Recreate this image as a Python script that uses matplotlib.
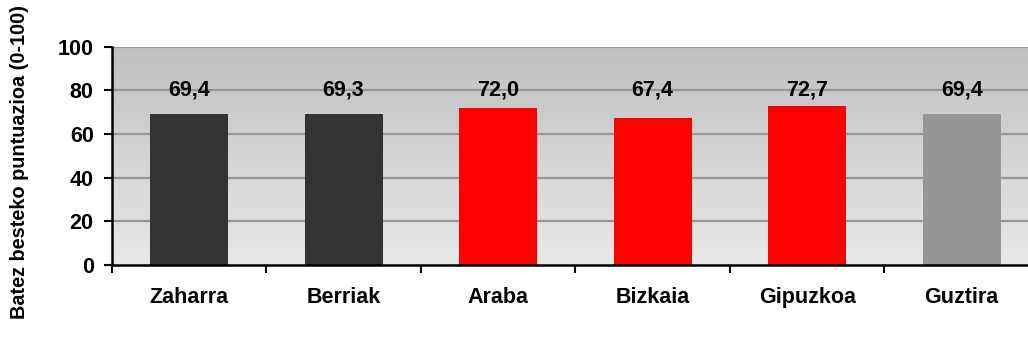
import numpy as np
import matplotlib
matplotlib.use("Agg")
import matplotlib.pyplot as plt
from matplotlib.colors import LinearSegmentedColormap

categories = ["Zaharra", "Berriak", "Araba", "Bizkaia", "Gipuzkoa", "Guztira"]
values = [69.4, 69.3, 72.0, 67.4, 72.7, 69.4]
bar_colors = ["#333333", "#333333", "#ff0000", "#ff0000", "#ff0000", "#969696"]
y_ticks = [0, 20, 40, 60, 80, 100]
y_label = "Batez besteko puntuazioa (0-100)"

plt.rcParams["font.family"] = ["Liberation Sans", "DejaVu Sans"]
plt.rcParams["font.weight"] = "bold"

fig = plt.figure(figsize=(10.28, 3.47), dpi=100)
ax = fig.add_axes([0.1087, 0.236, 0.902, 0.629])

x = np.arange(len(categories))
ax.set_xlim(-0.5, len(categories) - 0.5)
ax.set_ylim(0, 100)

# vertical gray gradient behind the plot area
cmap = LinearSegmentedColormap.from_list("bg", ["#e8e8e8", "#c0c0c0"])
grad = np.linspace(0, 1, 256).reshape(-1, 1)
ax.imshow(grad, cmap=cmap, aspect="auto", origin="lower",
          extent=[-0.5, len(categories) - 0.5, 0, 100], zorder=0)

for yv in y_ticks[1:]:
    ax.axhline(yv, color="#969696", linewidth=1.6, zorder=1)

ax.bar(x, values, width=0.505, color=bar_colors, zorder=2)

# value labels sit in a row along the 80 line
label_row = 80
for xi, v in zip(x, values):
    ax.text(xi, label_row, f"{v:.1f}".replace(".", ","), ha="center",
            va="center", fontsize=15.5, fontweight="bold", color="black",
            zorder=4)

for s in ["top", "right"]:
    ax.spines[s].set_visible(False)
for s in ["left", "bottom"]:
    ax.spines[s].set_linewidth(1.8)
    ax.spines[s].set_zorder(3)

ax.set_yticks(y_ticks)
ax.tick_params(axis="y", direction="out", length=6, width=1.5, pad=7,
               labelsize=15.5)

# category boundaries carry the tick marks, centers carry the labels
ax.set_xticks(np.arange(-0.5, len(categories), 1.0))
ax.set_xticklabels([])
ax.set_xticks(x, minor=True)
ax.set_xticklabels(categories, minor=True)
ax.tick_params(axis="x", which="major", direction="out", length=6, width=1.5)
ax.tick_params(axis="x", which="minor", length=0, pad=16, labelsize=15.5)

fig.text(0.019, 0.533, y_label, rotation=90, ha="center", va="center",
         fontsize=14.3, fontweight="bold")

fig.savefig("out.png", dpi=100)
